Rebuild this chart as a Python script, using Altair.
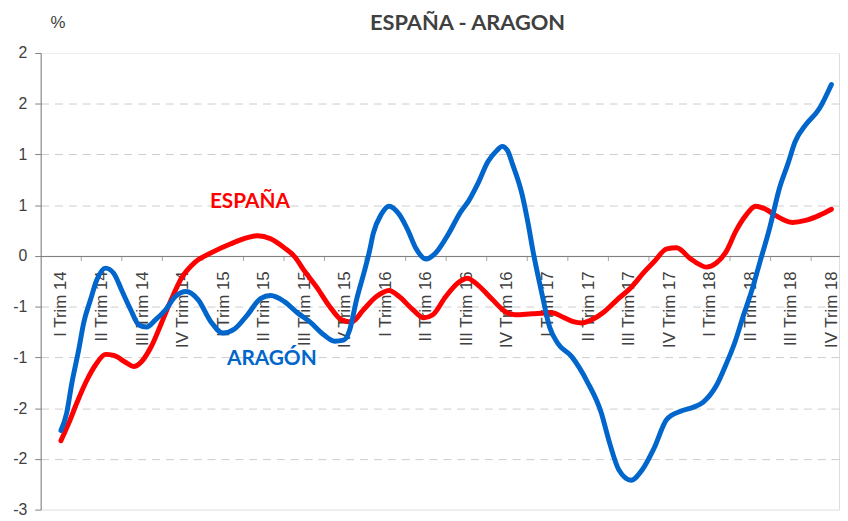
import altair as alt
import pandas as pd

quarters = ["I Trim 14", "II Trim 14", "III Trim 14", "IV Trim 14",
            "I Trim 15", "II Trim 15", "III Trim 15", "IV Trim 15",
            "I Trim 16", "II Trim 16", "III Trim 16", "IV Trim 16",
            "I Trim 17", "II Trim 17", "III Trim 17", "IV Trim 17",
            "I Trim 18", "II Trim 18", "III Trim 18", "IV Trim 18"]

# position along the quarter axis (0 = I Trim 14 ... 19 = IV Trim 18)
esp_x = [0.00, 0.20, 0.40, 0.62, 0.86, 1.10, 1.30, 1.60, 1.79, 1.99, 2.23, 2.48, 2.72,
         2.97, 3.31, 3.70, 4.19, 4.60, 4.85, 5.17, 5.51, 5.77, 5.99, 6.31, 6.63, 6.92,
         7.17, 7.46, 7.78, 8.09, 8.34, 8.68, 8.95, 9.17, 9.49, 9.81, 10.02, 10.29,
         10.64, 10.96, 11.20, 11.61, 12.10, 12.42, 12.66, 12.84, 13.08, 13.40, 13.72,
         14.06, 14.38, 14.62, 14.94, 15.18, 15.53, 15.77, 15.91, 16.16, 16.40, 16.65,
         16.89, 17.13, 17.38, 17.62, 18.04, 18.36, 18.70, 19.00]
esp_y = [-1.82, -1.64, -1.44, -1.24, -1.07, -0.97, -0.98, -1.05, -1.09, -1.04, -0.89,
         -0.66, -0.43, -0.22, -0.06, 0.03, 0.12, 0.18, 0.20, 0.17, 0.08, -0.01, -0.14,
         -0.31, -0.50, -0.63, -0.65, -0.53, -0.40, -0.34, -0.40, -0.53, -0.61, -0.58,
         -0.40, -0.26, -0.22, -0.29, -0.43, -0.55, -0.58, -0.57, -0.56, -0.61, -0.65,
         -0.66, -0.63, -0.55, -0.43, -0.31, -0.16, -0.06, 0.07, 0.08, -0.03, -0.09,
         -0.11, -0.07, 0.04, 0.25, 0.40, 0.49, 0.46, 0.40, 0.33, 0.35, 0.40, 0.46]

ara_x = [0.00, 0.14, 0.27, 0.44, 0.56, 0.73, 0.88, 1.10, 1.30, 1.50, 1.72, 1.92, 2.11,
         2.33, 2.58, 2.82, 3.09, 3.38, 3.70, 3.99, 4.28, 4.60, 4.92, 5.17, 5.51, 5.83,
         6.14, 6.49, 6.75, 6.97, 7.12, 7.29, 7.49, 7.61, 7.70, 7.90, 8.09, 8.34, 8.56,
         8.76, 9.00, 9.24, 9.56, 9.85, 10.05, 10.29, 10.53, 10.75, 10.88, 11.01, 11.14,
         11.37, 11.52, 11.64, 11.86, 12.05, 12.25, 12.59, 12.98, 13.32, 13.52, 13.76,
         14.06, 14.33, 14.62, 14.94, 15.28, 15.60, 15.84, 16.16, 16.40, 16.62, 16.82,
         17.06, 17.23, 17.48, 17.72, 17.92, 18.11, 18.36, 18.70, 19.00]
ara_y = [-1.72, -1.55, -1.25, -0.92, -0.66, -0.43, -0.24, -0.12, -0.17, -0.34, -0.53,
         -0.68, -0.70, -0.63, -0.53, -0.40, -0.35, -0.43, -0.65, -0.76, -0.72, -0.58,
         -0.42, -0.39, -0.45, -0.56, -0.65, -0.78, -0.84, -0.83, -0.73, -0.43, -0.14,
         0.05, 0.22, 0.41, 0.49, 0.41, 0.25, 0.07, -0.03, 0.03, 0.22, 0.43, 0.54, 0.72,
         0.93, 1.04, 1.08, 1.04, 0.90, 0.61, 0.32, 0.05, -0.37, -0.70, -0.86, -0.99,
         -1.24, -1.54, -1.83, -2.11, -2.21, -2.11, -1.90, -1.61, -1.53, -1.49, -1.44,
         -1.28, -1.07, -0.85, -0.60, -0.31, -0.07, 0.28, 0.67, 0.90, 1.13, 1.29, 1.45,
         1.69]

y_ticks = [2.0, 1.5, 1.0, 0.5, 0.0, -0.5, -1.0, -1.5, -2.0, -2.5]
y_tick_labels = ["2", "2", "1", "1", "0", "-1", "-1", "-2", "-2", "-3"]

# tick marks sit between the quarters
boundary_ticks = [i + 0.5 for i in range(len(quarters) - 1)]

ann_text = ["ESPAÑA", "ARAGÓN"]
ann_x = [4.66, 5.20]
ann_y = [0.47, -1.07]
ann_color = ["#FF0000", "#0066CC"]

RED = "#FF0000"
BLUE = "#0066CC"
AXIS_GRAY = "#7f7f7f"
TEXT_GRAY = "#404040"

W, H = 806, 461
YMIN, YMAX = -2.5, 2.0
zero_offset = -H * (0 - YMIN) / (YMAX - YMIN)

esp_df = pd.DataFrame({"x": esp_x, "v": esp_y})
ara_df = pd.DataFrame({"x": ara_x, "v": ara_y})
tick_df = pd.DataFrame({"x": boundary_ticks, "v": [0.0] * len(boundary_ticks)})
ann_df = pd.DataFrame({"x": ann_x, "v": ann_y, "t": ann_text, "c": ann_color})

x_label_expr = "[" + ",".join("'" + q + "'" for q in quarters) + "][datum.value]"
y_label_expr = "".join(
    "abs(datum.value - (%s)) < 0.01 ? '%s' : " % (v, l) for v, l in zip(y_ticks, y_tick_labels)
) + "''"

x_scale = alt.Scale(domain=[-0.5, -0.5 + W / 40.94], nice=False, zero=False)
y_scale = alt.Scale(domain=[YMIN, YMAX], nice=False, zero=False)

x_axis = alt.Axis(
    values=list(range(len(quarters))), labelExpr=x_label_expr, orient="bottom",
    offset=zero_offset, labelAngle=270, labelAlign="right", labelBaseline="middle",
    labelPadding=15, ticks=False, tickSize=0, grid=False, domainColor=AXIS_GRAY,
    domainWidth=1, labelFont="Liberation Sans", labelFontSize=17, labelColor=TEXT_GRAY,
    title=None, labelOverlap=False, labelFlush=False, labelBound=False,
)
y_axis = alt.Axis(
    values=y_ticks, labelExpr=y_label_expr, title="%", titleAngle=0, titleX=17, titleY=-26,
    titleAlign="center", titleBaseline="alphabetic", titleFont="Liberation Sans",
    titleFontSize=17, titleFontWeight="normal", titleColor=TEXT_GRAY,
    tickSize=6, tickColor=AXIS_GRAY, domainColor=AXIS_GRAY, labelPadding=8,
    labelFont="Liberation Sans", labelFontSize=16, labelColor=TEXT_GRAY,
    labelFlush=False, labelOverlap=False,
    gridDash={"condition": {"test": "datum.value === 0 || datum.value === 2 || datum.value === -2.5",
                            "value": []}, "value": [8, 6]},
    gridColor={"condition": [{"test": "datum.value === 0", "value": AXIS_GRAY},
                             {"test": "datum.value === 2 || datum.value === -2.5", "value": "#eeeeee"}],
               "value": "#cccccc"},
)

base_x = alt.X("x:Q", scale=x_scale, axis=x_axis)
base_y = alt.Y("v:Q", scale=y_scale, axis=y_axis)

esp_line = alt.Chart(esp_df).mark_line(
    color=RED, strokeWidth=5, interpolate="monotone", strokeCap="round", strokeJoin="round"
).encode(x=base_x, y=base_y)

ara_line = alt.Chart(ara_df).mark_line(
    color=BLUE, strokeWidth=5, interpolate="monotone", strokeCap="round", strokeJoin="round"
).encode(x=alt.X("x:Q", scale=x_scale), y=alt.Y("v:Q", scale=y_scale))

ticks = alt.Chart(tick_df).mark_tick(
    orient="vertical", size=5, thickness=1, color=AXIS_GRAY, yOffset=2.5
).encode(x=alt.X("x:Q", scale=x_scale), y=alt.Y("v:Q", scale=y_scale))

labels = alt.Chart(ann_df).mark_text(
    font="Lato", fontWeight="bold", fontSize=21, baseline="alphabetic", align="center"
).encode(
    x=alt.X("x:Q", scale=x_scale), y=alt.Y("v:Q", scale=y_scale),
    text="t:N", color=alt.Color("c:N", scale=None),
)

chart = alt.layer(ticks, esp_line, ara_line, labels).properties(
    width=W, height=H,
    padding={"left": 33, "top": 43, "right": 1, "bottom": 5},
    autosize=alt.AutoSizeParams(type="none"),
    title=alt.TitleParams(
        "ESPAÑA - ARAGON", font="Lato", fontSize=22, fontWeight="bold", color=TEXT_GRAY,
        anchor="middle", frame="group", dx=28, dy=22, offset=0,
    ),
).configure_view(stroke=None).configure(background="white")

chart.save("out.html", embed_options={"renderer": "svg", "actions": False})
